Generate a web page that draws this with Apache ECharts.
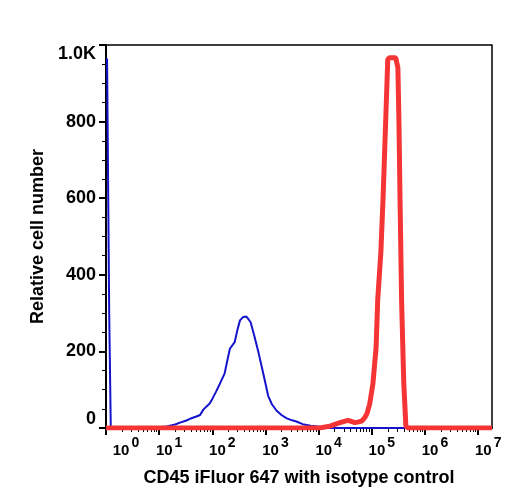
<!DOCTYPE html>
<html>
<head>
<meta charset="utf-8">
<script src="https://cdn.jsdelivr.net/npm/echarts@6/dist/echarts.min.js"></script>
<style>
  html, body { margin: 0; padding: 0; background: #fff; }
  #chart { width: 512px; height: 500px; }
</style>
</head>
<body>
<div id="chart"></div>
<script>
// x values are decades (log10 of intensity)
var decadeTicks = [0, 1, 2, 3, 4, 5, 6, 7];
var xMax = 7.26;

// isotype control (blue)
var blueX = [0.02, 0.06, 0.09, 0.8, 1.0, 1.14, 1.3, 1.39, 1.5, 1.58, 1.7, 1.77, 1.83, 1.95, 2.0, 2.07, 2.14, 2.23, 2.28, 2.33, 2.42, 2.47, 2.52, 2.58, 2.64, 2.68, 2.72, 2.79, 2.86, 2.96, 3.05, 3.12, 3.21, 3.3, 3.4, 3.5, 3.58, 3.7, 3.85, 4.02, 4.2, 7.26];
var blueY = [965, 300, 0, 0, 2, 4, 9, 14, 19, 24, 30, 34, 48, 64, 76, 95, 115, 142, 175, 207, 224, 255, 281, 290, 291, 284, 276, 240, 202, 141, 84, 62, 45, 34, 25, 20, 17, 10, 6, 3, 0, 0];

// CD45 iFluor 647 (red)
var redX = [0.0, 4.02, 4.21, 4.4, 4.55, 4.62, 4.68, 4.75, 4.81, 4.87, 4.91, 4.96, 5.02, 5.08, 5.11, 5.17, 5.21, 5.26, 5.3, 5.34, 5.45, 5.49, 5.51, 5.53, 5.56, 5.6, 5.64, 5.68, 7.26];
var redY = [0, 0, 5, 14, 20, 17, 14, 16, 18, 28, 38, 63, 115, 210, 333, 460, 596, 800, 963, 967, 967, 940, 800, 600, 330, 120, 5, 0, 0];

function zip(xs, ys) {
  return xs.map(function (x, i) { return [x, ys[i]]; });
}

// log-spaced minor ticks inside each decade
var minorTicks = [];
decadeTicks.forEach(function (d) {
  for (var k = 2; k <= 9; k++) {
    var v = d + Math.log10(k);
    if (v <= xMax) minorTicks.push(v);
  }
});

var font = 'Liberation Sans, Arial, Helvetica, sans-serif';
var chart = echarts.init(document.getElementById('chart'));

var option = {
  animation: false,
  grid: {
    left: 106, right: 20, top: 45, bottom: 72,
    show: true, borderColor: '#000', borderWidth: 1.5
  },
  xAxis: [{
    type: 'value',
    min: 0, max: xMax,
    name: 'CD45 iFluor 647 with isotype control',
    nameLocation: 'middle',
    nameGap: 41,
    nameTextStyle: { fontFamily: font, fontWeight: 'bold', fontSize: 18, color: '#000' },
    axisLine: { lineStyle: { color: '#000', width: 2 } },
    axisTick: { customValues: decadeTicks, length: 7, lineStyle: { color: '#000', width: 2 } },
    splitLine: { show: false },
    axisLabel: {
      customValues: decadeTicks,
      showMinLabel: true,
      showMaxLabel: true,
      hideOverlap: false,
      margin: 8,
      fontFamily: font, fontWeight: 'bold', fontSize: 15, color: '#000',
      formatter: function (v) {
        return (v === 0 ? '{p0|}' : '{p|}') + '{b|10}{s|' + v + '}';
      },
      rich: {
        p: { width: 20, height: 1 },
        p0: { width: 40, height: 1 },
        b: { fontFamily: font, fontWeight: 'bold', fontSize: 15, lineHeight: 22, verticalAlign: 'bottom', color: '#000' },
        s: { fontFamily: font, fontWeight: 'bold', fontSize: 14, lineHeight: 14, verticalAlign: 'top', padding: [0, 0, 0, 2], color: '#000' }
      }
    }
  }, {
    type: 'value',
    min: 0, max: xMax,
    position: 'bottom',
    axisLine: { show: false },
    axisLabel: { show: false },
    splitLine: { show: false },
    axisTick: { customValues: minorTicks, length: 4, lineStyle: { color: '#000', width: 1 } }
  }],
  yAxis: {
    type: 'value',
    min: 0, max: 1000, interval: 200,
    name: 'Relative cell number',
    nameLocation: 'middle',
    nameGap: 51,
    nameTextStyle: { fontFamily: font, fontWeight: 'bold', fontSize: 18, color: '#000' },
    axisLine: { show: true, lineStyle: { color: '#000', width: 2 } },
    axisTick: { show: true, length: 7, lineStyle: { color: '#000', width: 2 } },
    minorTick: { show: true, splitNumber: 4, length: 4, lineStyle: { color: '#000', width: 1 } },
    splitLine: { show: false },
    axisLabel: {
      margin: 10,
      verticalAlignMaxLabel: 'top',
      verticalAlignMinLabel: 'bottom',
      fontFamily: font, fontWeight: 'bold', fontSize: 18, color: '#000',
      formatter: function (v) { return v === 1000 ? '1.0K' : String(v); }
    }
  },
  series: [{
    name: 'isotype',
    type: 'line',
    showSymbol: false,
    data: zip(blueX, blueY),
    lineStyle: { color: '#1414cc', width: 2 },
    z: 2
  }, {
    name: 'CD45',
    type: 'line',
    showSymbol: false,
    data: zip(redX, redY),
    lineStyle: { color: '#f53535', width: 5 },
    z: 3
  }]
};

chart.setOption(option);
</script>
</body>
</html>
